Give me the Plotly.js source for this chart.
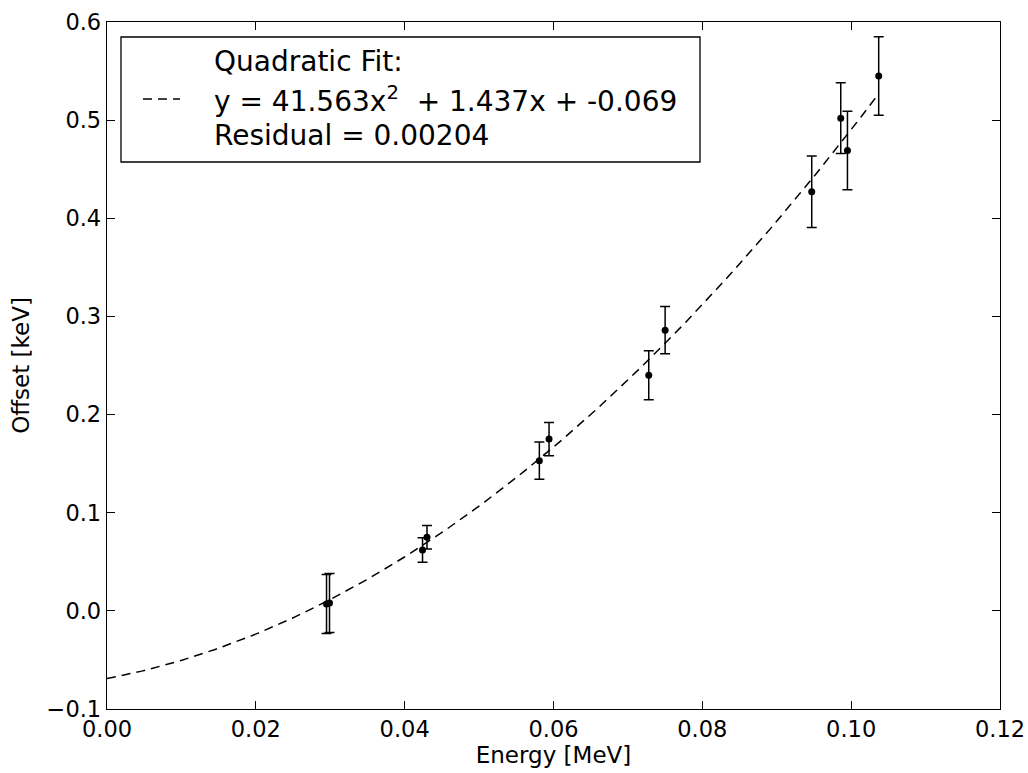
<!DOCTYPE html>
<html>
<head>
<meta charset="utf-8">
<script src="https://cdn.plot.ly/plotly-3.0.1.min.js"></script>
<style>html,body{margin:0;padding:0;background:#fff;}#chart{width:1028px;height:773px;}</style>
</head>
<body>
<div id="chart"></div>
<script>
// Measured points
const energy = [0.0295, 0.0299, 0.0424, 0.0430, 0.0581, 0.0594, 0.0728, 0.0750, 0.0947, 0.0986, 0.0995, 0.1037];
const offset = [0.007, 0.008, 0.062, 0.075, 0.153, 0.175, 0.240, 0.286, 0.427, 0.502, 0.469, 0.545];
const offsetErr = [0.030, 0.030, 0.0125, 0.012, 0.019, 0.017, 0.025, 0.024, 0.0365, 0.036, 0.040, 0.040];
// Quadratic fit coefficients (a, b, c) from the legend
const fitCoef = [41.563, 1.437, -0.069];
const fitRange = [0.0, 0.1037];
const xTicks = [0.00, 0.02, 0.04, 0.06, 0.08, 0.10, 0.12];
const yTicks = [-0.1, 0.0, 0.1, 0.2, 0.3, 0.4, 0.5, 0.6];
const legendLines = ["Quadratic Fit:", "y = 41.563x<sup>2</sup>&nbsp; + 1.437x + -0.069", "Residual = 0.00204"];

const fitX = [], fitY = [];
const N = 200;
for (let i = 0; i <= N; i++) {
  const x = fitRange[0] + (fitRange[1] - fitRange[0]) * i / N;
  fitX.push(x);
  fitY.push(fitCoef[0] * x * x + fitCoef[1] * x + fitCoef[2]);
}

const font = "DejaVu Sans, sans-serif";

const traces = [
  {
    x: fitX, y: fitY, mode: 'lines', type: 'scatter',
    line: {color: 'black', width: 1.5, dash: '9px,6px'},
    showlegend: false, hoverinfo: 'skip'
  },
  {
    x: energy, y: offset, mode: 'markers', type: 'scatter',
    marker: {color: 'black', size: 7},
    error_y: {type: 'data', array: offsetErr, visible: true, color: 'black', thickness: 1.5, width: 5},
    showlegend: false
  }
];

const annY = [62, 99, 135];
const H = 773, T = 22, B = 64;
const plotH = H - T - B;
const annotations = legendLines.map((t, i) => ({
  xref: 'paper', yref: 'paper',
  x: (212 - 107) / (1000 - 107),
  y: 1 - (annY[i] - T) / plotH,
  xanchor: 'left', yanchor: 'middle',
  text: t, showarrow: false,
  font: {family: font, size: 28, color: 'black'}
}));

const px = v => (v - 107) / (1000 - 107);
const py = v => 1 - (v - T) / plotH;

const layout = {
  width: 1028, height: 773,
  margin: {l: 107, r: 28, t: 22, b: 64},
  paper_bgcolor: 'white', plot_bgcolor: 'white',
  font: {family: font, color: 'black'},
  xaxis: {
    range: [0, 0.12], tickvals: xTicks, tickformat: '.2f',
    ticks: 'inside', ticklen: 8, tickwidth: 1, tickcolor: 'black',
    showline: true, linecolor: 'black', linewidth: 1.3, mirror: 'allticks',
    showgrid: false, zeroline: false,
    tickfont: {family: font, size: 22.5, color: 'black'},
    title: {text: 'Energy [MeV]', font: {family: font, size: 23, color: 'black'}, standoff: 4}
  },
  yaxis: {
    range: [-0.1, 0.6], tickvals: yTicks, tickformat: '.1f',
    ticks: 'inside', ticklen: 8, tickwidth: 1, tickcolor: 'black',
    showline: true, linecolor: 'black', linewidth: 1.3, mirror: 'allticks',
    showgrid: false, zeroline: false,
    tickfont: {family: font, size: 22.5, color: 'black'},
    title: {text: 'Offset [keV]', font: {family: font, size: 23, color: 'black'}, standoff: 10}
  },
  annotations: annotations,
  shapes: [
    {type: 'rect', xref: 'paper', yref: 'paper', x0: px(121), x1: px(700), y0: py(162), y1: py(37),
     line: {color: 'black', width: 1.3}, fillcolor: 'white', layer: 'above'},
    {type: 'line', xref: 'paper', yref: 'paper', x0: px(143), x1: px(180), y0: py(99), y1: py(99),
     line: {color: 'black', width: 1.5, dash: '9px,6px'}, layer: 'above'}
  ],
  showlegend: false
};

Plotly.newPlot('chart', traces, layout, {displayModeBar: false, staticPlot: true});
</script>
</body>
</html>
